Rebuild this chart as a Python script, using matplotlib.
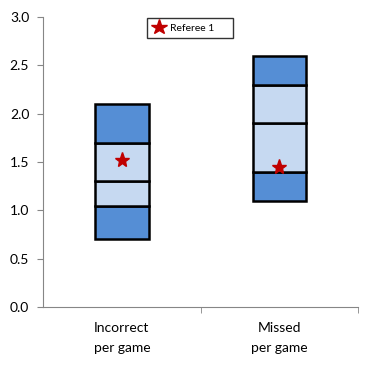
import numpy as np
import matplotlib.pyplot as plt

plt.rcParams['font.family'] = ['Lato', 'DejaVu Sans']

categories = ["Incorrect\nper game", "Missed\nper game"]
# segment boundaries of each box (bottom to top)
incorrect_bounds = [0.7, 1.05, 1.3, 1.7, 2.1]
missed_bounds = [1.1, 1.4, 1.9, 2.3, 2.6]
referee1 = [1.52, 1.45]

dark = "#558ED5"
light = "#C6D9F1"
seg_colors = [dark, light, light, dark]

fig = plt.figure(figsize=(3.65, 3.65), dpi=100)
ax = fig.add_axes([0.118, 0.159, 0.863, 0.794])

x = np.arange(len(categories))
for xi, bounds in zip(x, [incorrect_bounds, missed_bounds]):
    bottoms = np.array(bounds[:-1])
    heights = np.diff(bounds)
    ax.bar([xi] * len(heights), heights, bottom=bottoms, width=0.34,
           color=seg_colors, edgecolor="black", linewidth=1.8, zorder=2)

ax.plot(x, referee1, linestyle="none", marker="*", markersize=11,
        color="#C00000", label="Referee 1     ", zorder=3)

ax.set_xlim(-0.5, 1.5)
ax.set_ylim(0, 3.0)
ax.set_yticks(np.arange(0, 3.01, 0.5))
ax.set_yticklabels([f"{v:.1f}" for v in np.arange(0, 3.01, 0.5)], fontsize=10)
ax.set_xticks(x)
ax.set_xticklabels(categories, fontsize=10, linespacing=1.75)
ax.set_xticks([0.5, 1.5], minor=True)
ax.tick_params(axis="x", which="major", length=0, pad=11)
ax.tick_params(axis="x", which="minor", length=4, color="#868686", direction="out")
ax.tick_params(axis="y", length=4, color="#868686", direction="out", pad=6)

for s in ["top", "right"]:
    ax.spines[s].set_visible(False)
for s in ["left", "bottom"]:
    ax.spines[s].set_color("#868686")

leg = ax.legend(loc="upper left", bbox_to_anchor=(0.33, 0.997), fontsize=7.5,
                frameon=True, fancybox=False, edgecolor="black",
                handletextpad=0.4, borderpad=0.5, handlelength=1.3,
                borderaxespad=0, markerscale=1.05)
leg.get_frame().set_linewidth(1.0)

fig.savefig("out.png", dpi=100)
